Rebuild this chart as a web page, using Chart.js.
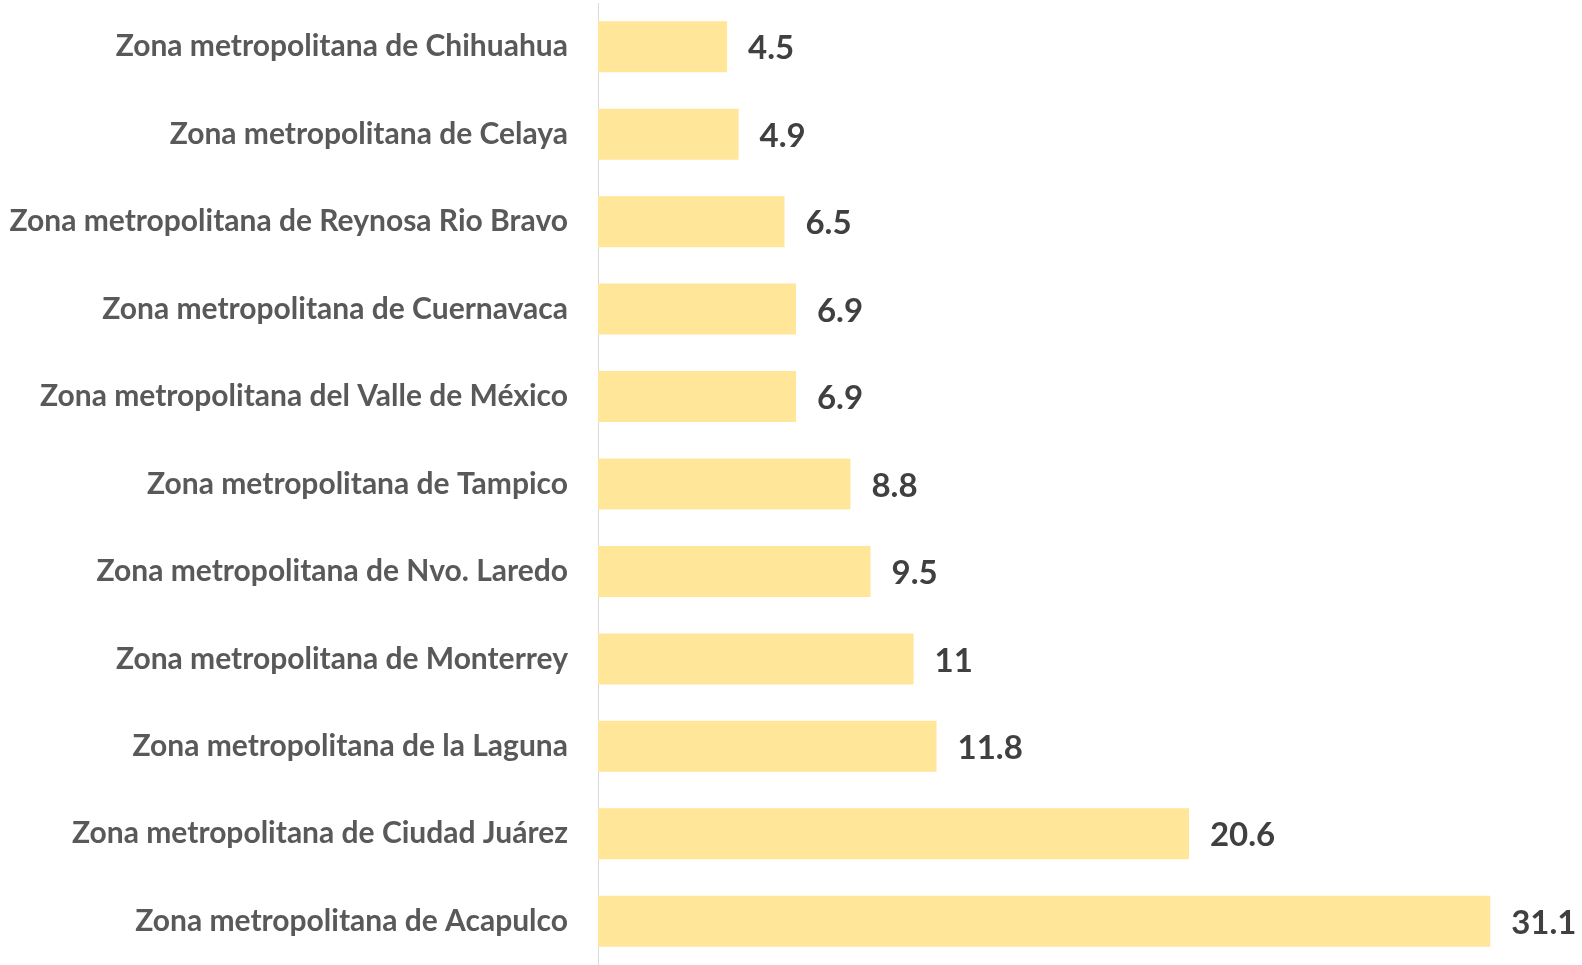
<!DOCTYPE html>
<html>
<head>
<meta charset="utf-8">
<script src="https://cdn.jsdelivr.net/npm/chart.js@4"></script>
<style>
  html, body { margin: 0; padding: 0; background: #fff; }
  #wrap { width: 1582px; height: 965px; }
</style>
</head>
<body>
<div id="wrap"><canvas id="chart"></canvas></div>
<script>
const categories = [
  "Zona metropolitana de Chihuahua",
  "Zona metropolitana de Celaya",
  "Zona metropolitana de Reynosa Rio Bravo",
  "Zona metropolitana de Cuernavaca",
  "Zona metropolitana del Valle de México",
  "Zona metropolitana de Tampico",
  "Zona metropolitana de Nvo. Laredo",
  "Zona metropolitana de Monterrey",
  "Zona metropolitana de la Laguna",
  "Zona metropolitana de Ciudad Juárez",
  "Zona metropolitana de Acapulco",
];
const values = [4.5, 4.9, 6.5, 6.9, 6.9, 8.8, 9.5, 11, 11.8, 20.6, 31.1];

// draws the number to the right of each bar
const valueLabels = {
  id: "valueLabels",
  afterDatasetsDraw(chart) {
    const ctx = chart.ctx;
    const meta = chart.getDatasetMeta(0);
    ctx.save();
    ctx.font = "bold 33px Lato";
    ctx.fillStyle = "#404040";
    ctx.textAlign = "left";
    ctx.textBaseline = "middle";
    meta.data.forEach((bar, i) => {
      ctx.fillText(String(values[i]), bar.x + 21, bar.y + 2);
    });
    ctx.restore();
  },
};

const ctx = document.getElementById("chart").getContext("2d");
new Chart(ctx, {
  type: "bar",
  data: {
    labels: categories,
    datasets: [
      {
        data: values,
        backgroundColor: "#FFE699",
        borderWidth: 0,
        barPercentage: 0.583,
        categoryPercentage: 1,
      },
    ],
  },
  options: {
    indexAxis: "y",
    responsive: true,
    maintainAspectRatio: false,
    animation: false,
    layout: { padding: { top: 3, right: 0, bottom: 0, left: 0 } },
    plugins: {
      legend: { display: false },
      tooltip: { enabled: false },
    },
    scales: {
      x: {
        display: false,
        min: 0,
        max: 34.3,
      },
      y: {
        afterFit: (scale) => {
          scale.width = 598;
          scale.paddingTop = 0;
          scale.paddingBottom = 0;
        },
        grid: { display: false, drawTicks: false },
        border: { display: true, color: "#D9D9D9", width: 1 },
        ticks: {
          padding: 30,
          color: "#595959",
          font: { family: "Lato", size: 30, weight: "bold" },
        },
      },
    },
  },
  plugins: [valueLabels],
});
</script>
</body>
</html>
